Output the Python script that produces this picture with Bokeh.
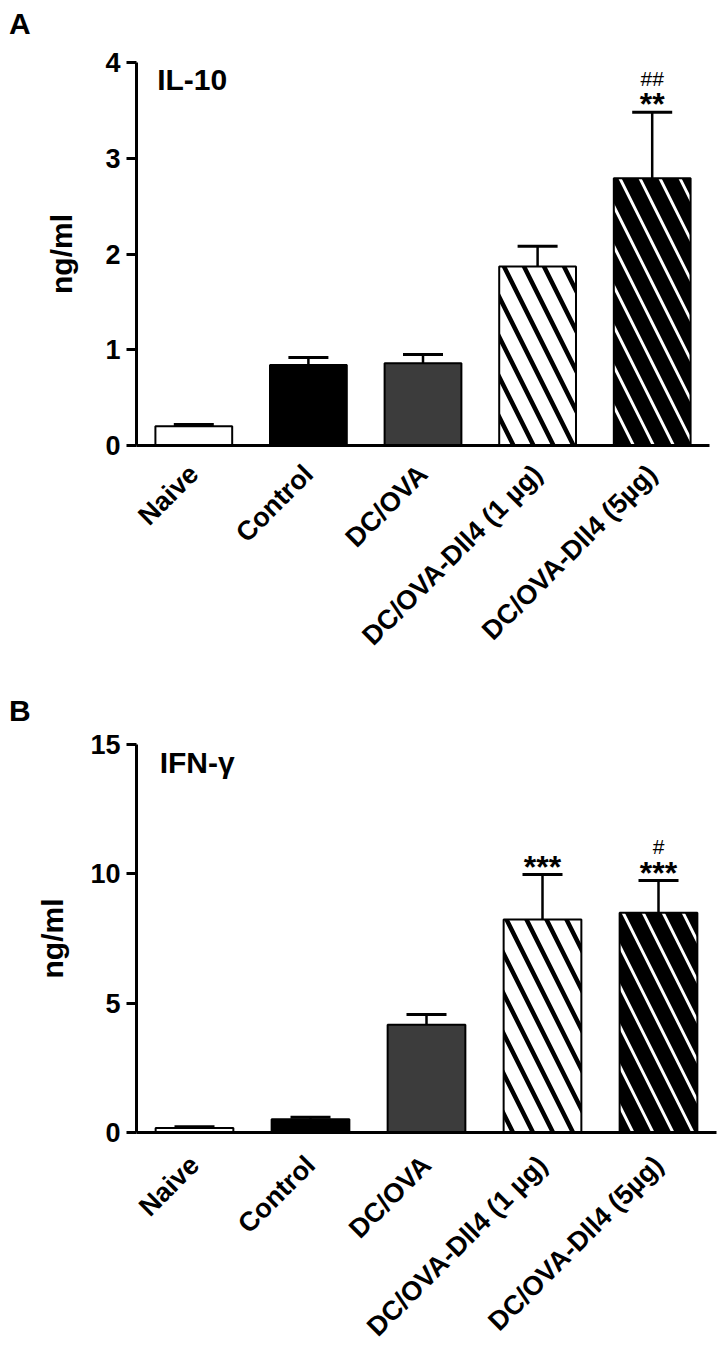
from bokeh.plotting import figure
from bokeh.layouts import column
from bokeh.models import Range1d, FixedTicker, Label, ColumnDataSource, Whisker, TeeHead, Div
from bokeh.embed import file_html
from bokeh.resources import INLINE
from bokeh.core.properties import value

# ---------------- data ----------------
categories = ["Naive", "Control", "DC/OVA", "DC/OVA-Dll4 (1 µg)", "DC/OVA-Dll4 (5µg)"]
positions = [1, 2, 3, 4, 5]

il10_mean = [0.20, 0.84, 0.86, 1.87, 2.79]
il10_err = [0.02, 0.08, 0.09, 0.21, 0.69]
il10_stars = ["", "", "", "", "**"]
il10_hash = ["", "", "", "", "##"]
il10_ticks = [0, 1, 2, 3, 4]

ifng_mean = [0.17, 0.51, 4.17, 8.23, 8.50]
ifng_err = [0.05, 0.08, 0.39, 1.74, 1.24]
ifng_stars = ["", "", "", "***", "***"]
ifng_hash = ["", "", "", "", "#"]
ifng_ticks = [0, 5, 10, 15]

# ---------------- styles ----------------
bar_fill = ["white", "black", "#3c3c3c", "white", "black"]
bar_hatch = [" ", " ", " ", "\\", "\\"]
bar_hatch_color = ["black", "black", "black", "black", "white"]
bar_hatch_weight = [1, 1, 1, 4.5, 3.0]

FONT = "Liberation Sans"


def make_panel(means, errs, stars, hashes, ticks, ymax,
               fw, fh, left, right, top, bottom, ylab_standoff, lab_standoff):
    p = figure(frame_width=fw, frame_height=fh, output_backend="svg", toolbar_location=None,
               x_range=Range1d(0.5, 5.5), y_range=Range1d(0, ymax),
               min_border_left=left, min_border_right=right,
               min_border_top=top, min_border_bottom=bottom)
    p.outline_line_color = None
    p.xgrid.visible = False
    p.ygrid.visible = False
    p.background_fill_color = "white"
    p.border_fill_color = "white"

    caps = [m + e for m, e in zip(means, errs)]
    src = ColumnDataSource(dict(x=positions, top=means, cap=caps,
                                fill=bar_fill, hatch=bar_hatch,
                                hcol=bar_hatch_color, hw=bar_hatch_weight,
                                stars=stars, hashes=hashes))

    p.vbar(x="x", top="top", bottom=0, width=0.67, source=src,
           fill_color="fill", line_color="black", line_width=2,
           hatch_pattern="hatch", hatch_color="hcol", hatch_weight="hw",
           hatch_scale=40)

    w = Whisker(base="x", upper="cap", lower="top", source=src,
                line_color="black", line_width=2.5,
                upper_head=TeeHead(size=40, line_width=3, line_color="black"),
                lower_head=None)
    p.add_layout(w)

    p.text(x="x", y="cap", text="stars", source=src, text_align="center",
           text_baseline="middle", y_offset=-8,
           text_font=value(FONT), text_font_size="32px", text_font_style="bold",
           text_color="black")
    p.text(x="x", y="cap", text="hashes", source=src, text_align="center",
           text_baseline="middle", y_offset=-34,
           text_font=value(FONT), text_font_size="21px", text_font_style="normal",
           text_color="black")

    # axes
    xa = p.xaxis[0]
    xa.ticker = FixedTicker(ticks=positions)
    xa.major_label_overrides = {pos: c for pos, c in zip(positions, categories)}
    xa.major_label_orientation = 0.785398
    xa.major_label_text_font = FONT
    xa.major_label_text_font_size = "27px"
    xa.major_label_text_font_style = "bold"
    xa.major_label_text_color = "black"
    xa.major_label_standoff = lab_standoff
    xa.major_tick_line_color = None
    xa.minor_tick_line_color = None
    xa.axis_line_width = 3
    xa.axis_line_color = "black"

    ya = p.yaxis[0]
    ya.ticker = FixedTicker(ticks=ticks)
    ya.major_label_text_font = FONT
    ya.major_label_text_font_size = "27px"
    ya.major_label_text_font_style = "bold"
    ya.major_label_text_color = "black"
    ya.major_label_standoff = 6
    ya.major_tick_out = 10
    ya.major_tick_in = 0
    ya.major_tick_line_width = 3
    ya.minor_tick_line_color = None
    ya.axis_line_width = 3
    ya.axis_line_color = "black"
    ya.axis_label = "ng/ml"
    ya.axis_label_text_font = FONT
    ya.axis_label_text_font_size = "30px"
    ya.axis_label_text_font_style = "bold"
    ya.axis_label_text_color = "black"
    ya.axis_label_standoff = ylab_standoff

    return p


def add_text(p, x, y, text, size):
    p.add_layout(Label(x=x, y=y, text=text, text_font=FONT, text_font_size=size,
                       text_font_style="bold", text_color="black",
                       text_baseline="middle", text_align="left"))


def letter_div(letter, height, top):
    html = ('<div style="position:relative; top:%dpx; left:9px; font-family:\'Liberation Sans\';'
            ' font-size:30px; font-weight:bold; line-height:1; color:black;">%s</div>' % (top, letter))
    return Div(text=html, width=720, height=height, margin=(0, 0, 0, 0))


divA = letter_div("A", 40, 9)
pA = make_panel(il10_mean, il10_err, il10_stars, il10_hash, il10_ticks, 4,
                573, 383, 136, 11, 22, 219, 24, 18)
add_text(pA, 0.68, 3.82, "IL-10", "30px")

divB = letter_div("B", 64, 32)
pB = make_panel(ifng_mean, ifng_err, ifng_stars, ifng_hash, ifng_ticks, 15,
                580, 388, 134, 6, 16, 215, 18, 22)
add_text(pB, 0.70, 14.30, "IFN-γ", "30px")

layout = column(divA, pA, divB, pB)
open("out.html", "w").write(file_html(layout, INLINE))
